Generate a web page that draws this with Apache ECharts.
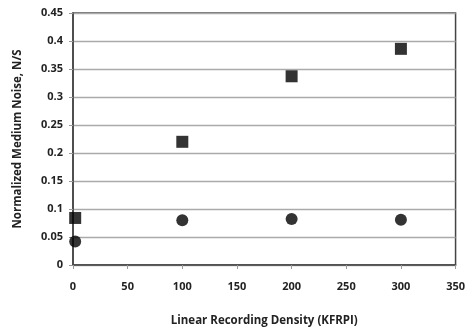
<!DOCTYPE html>
<html>
<head>
<meta charset="utf-8">
<script src="https://cdn.jsdelivr.net/npm/echarts@6/dist/echarts.min.js"></script>
<style>
  html, body { margin: 0; padding: 0; background: #fff; }
  #chart { width: 468px; height: 332px; }
</style>
</head>
<body>
<div id="chart"></div>
<script>
// values
const squareX = [2, 100, 200, 300]
const squareY = [0.084, 0.22, 0.337, 0.386]
const circleX = [2, 100, 200, 300]
const circleY = [0.042, 0.080, 0.082, 0.081]

const font = 'Open Sans'
const chart = echarts.init(document.getElementById('chart'))
chart.setOption({
  animation: false,
  grid: {
    left: 73,
    right: 8,
    top: 13,
    bottom: 62,
    show: true,
    borderColor: '#444',
    borderWidth: 1.5
  },
  xAxis: {
    type: 'value',
    min: 0,
    max: 350,
    interval: 50,
    name: 'Linear Recording Density (KFRPI)',
    nameLocation: 'middle',
    nameGap: 50,
    nameTextStyle: { fontFamily: font, fontWeight: 'bold', fontSize: 11.5, color: '#222' },
    axisLine: { show: true, lineStyle: { color: '#444', width: 1.5 } },
    axisTick: { show: true, length: 4, lineStyle: { color: '#999' } },
    axisLabel: { fontFamily: font, fontWeight: 'bold', fontSize: 11, color: '#222', margin: 16 },
    splitLine: { show: false }
  },
  yAxis: {
    type: 'value',
    min: 0,
    max: 0.45,
    interval: 0.05,
    name: 'Normalized Medium Noise, N/S',
    nameLocation: 'middle',
    nameGap: 49,
    nameTextStyle: { fontFamily: font, fontWeight: 'bold', fontSize: 11.5, color: '#222' },
    axisLine: { show: true, lineStyle: { color: '#444', width: 1.5 } },
    axisTick: { show: true, length: 4, lineStyle: { color: '#999' } },
    axisLabel: { fontFamily: font, fontWeight: 'bold', fontSize: 11, color: '#222', margin: 10 },
    splitLine: { show: true, lineStyle: { color: '#aaa', width: 1.3 } }
  },
  series: [
    {
      name: 'square',
      type: 'scatter',
      symbol: 'rect',
      symbolSize: 12,
      itemStyle: { color: '#000' },
      data: squareX.map((x, i) => [x, squareY[i]])
    },
    {
      name: 'circle',
      type: 'scatter',
      symbol: 'circle',
      symbolSize: 12,
      itemStyle: { color: '#000' },
      data: circleX.map((x, i) => [x, circleY[i]])
    }
  ]
})
</script>
</body>
</html>
